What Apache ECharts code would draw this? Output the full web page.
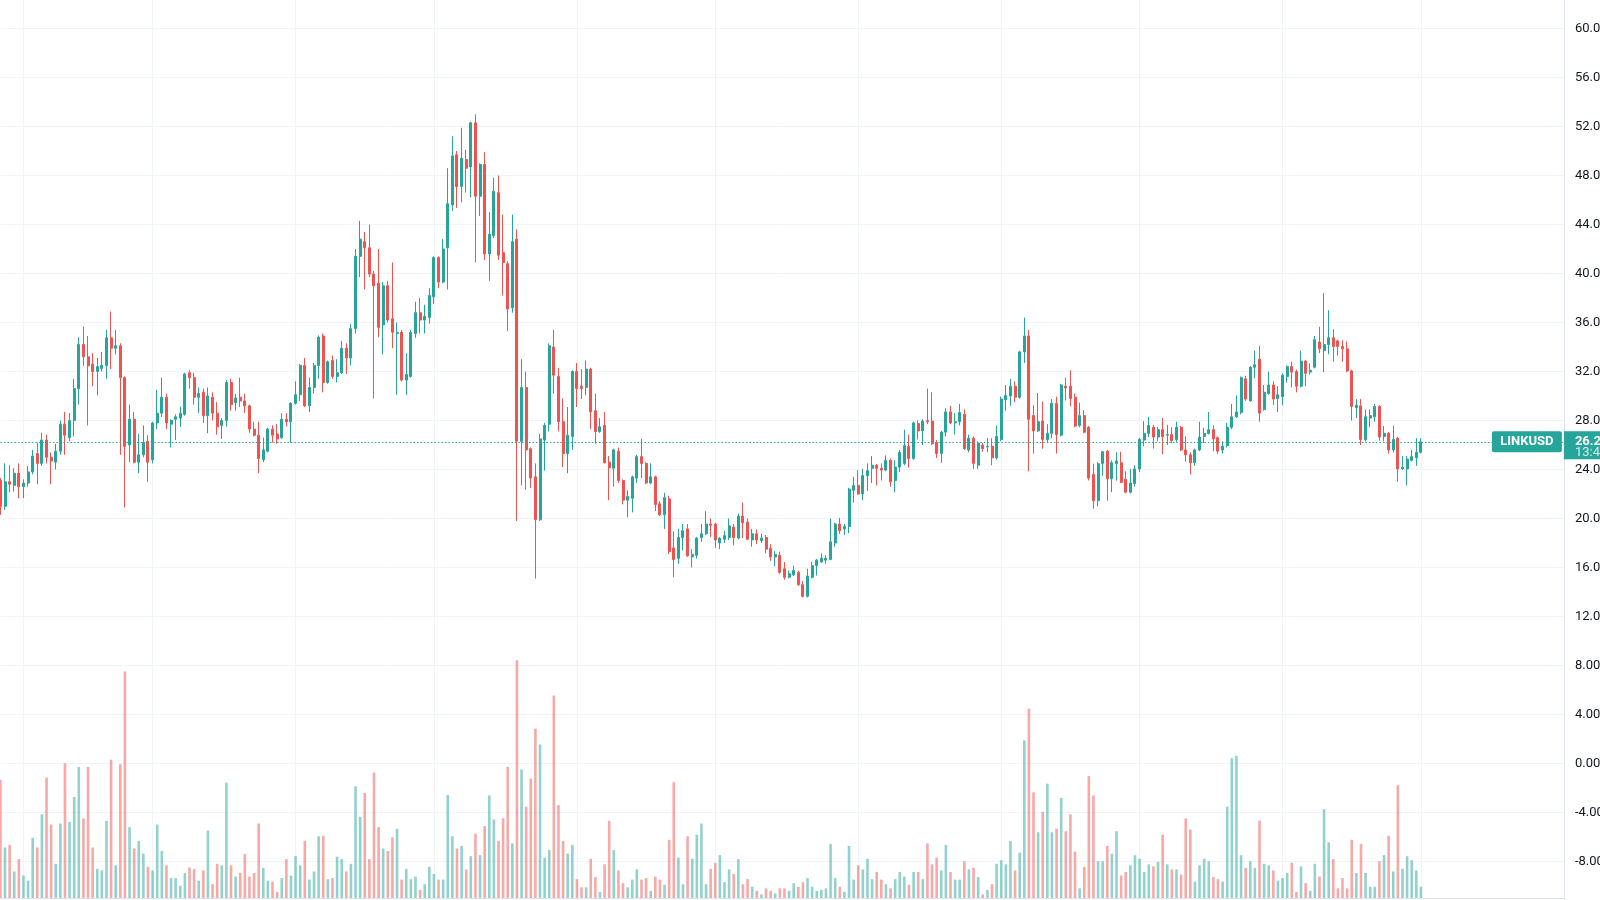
<!DOCTYPE html>
<html lang="en">
<head>
<meta charset="UTF-8">
<title>LINKUSD</title>
<script src="https://cdn.jsdelivr.net/npm/echarts@6/dist/echarts.min.js"></script>
<style>
    html, body { margin: 0; padding: 0; background: #ffffff; }
    #main { width: 1600px; height: 900px; }
</style>
</head>
<body>
<div id="main"></div>
<script>
// daily candles, first bar = 2021-01-27
var startDate = '2021-01-27';
var padBars = 31; // empty space on the right of the last bar

var opens = [
    23.1, 21.0, 23.0, 22.7, 23.7, 22.6, 22.9, 23.8, 25.3, 24.5,
    26.4, 25.0, 24.6, 25.5, 27.7, 26.6, 28.0, 30.6, 34.2, 33.2,
    32.6, 32.0, 32.25, 32.5, 34.75, 33.9, 34.1, 31.5, 26.0, 28.1,
    24.6, 25.2, 26.3, 24.8, 27.8, 28.6, 29.9, 27.7, 28.1, 28.2,
    28.5, 31.9, 31.5, 29.9, 30.3, 28.4, 29.9, 28.6, 27.6, 28.0,
    31.1, 29.46, 29.9, 29.6, 29.2, 27.3, 26.8, 24.8, 25.5, 27.3,
    26.9, 26.6, 28.1, 27.9, 29.4, 30.1, 32.5, 29.2, 30.7, 32.5,
    34.9, 31.1, 32.9, 31.6, 31.9, 33.9, 33.1, 35.5, 41.4, 42.6,
    42.1, 39.95, 39.2, 35.8, 39.0, 36.3, 35.1, 35.2, 31.3, 31.6,
    35.1, 36.8, 36.2, 36.4, 38.1, 41.3, 39.3, 42.1, 45.6, 49.7,
    47.1, 49.3, 48.7, 52.3, 46.3, 48.9, 41.6, 43.1, 46.6, 41.7,
    40.8, 37.2, 42.8, 26.3, 30.7, 25.7, 23.4, 19.9, 26.4, 27.7,
    34.0, 31.6, 27.9, 25.3, 26.7, 32.0, 30.8, 30.7, 32.2, 28.8,
    27.1, 27.6, 24.6, 24.1, 25.5, 23.1, 21.5, 21.65, 23.3, 25.05,
    24.5, 22.9, 23.4, 21.2, 20.3, 21.6, 17.6, 16.75, 18.45, 19.15,
    16.87, 17.0, 18.45, 18.75, 19.55, 19.55, 18.0, 18.3, 18.45, 19.3,
    18.4, 20.2, 19.7, 18.25, 18.75, 18.2, 18.45, 17.55, 16.85, 17.0,
    15.9, 15.2, 15.4, 15.6, 14.6, 13.65, 15.2, 16.15, 16.45, 16.6,
    16.66, 18.0, 19.55, 19.15, 19.35, 22.3, 22.7, 22.0, 23.5, 24.1,
    24.35, 24.1, 23.95, 24.75, 23.1, 24.2, 24.5, 25.9, 24.9, 27.75,
    27.15, 28.0, 27.95, 26.2, 25.3, 27.05, 28.7, 27.8, 27.9, 28.5,
    25.6, 26.55, 24.35, 26.0, 25.85, 25.9, 24.95, 26.45, 29.7, 30.0,
    30.8, 29.9, 33.6, 34.9, 28.4, 27.15, 27.95, 26.45, 26.95, 29.4,
    26.8, 30.8, 30.8, 29.9, 27.6, 28.4, 27.45, 23.6, 21.45, 24.5,
    25.5, 23.25, 24.5, 24.55, 23.2, 22.15, 22.85, 24.05, 26.4, 26.95,
    27.45, 26.65, 27.25, 26.8, 26.85, 26.45, 27.45, 25.6, 25.2, 24.55,
    25.6, 26.7, 26.95, 27.25, 26.6, 25.6, 25.95, 27.45, 28.3, 28.65,
    31.4, 29.6, 32.35, 33.0, 28.9, 30.2, 30.9, 29.8, 29.95, 31.6,
    32.4, 32.0, 30.8, 32.85, 31.95, 32.35, 34.4, 33.7, 34.2, 34.75,
    34.5, 34.05, 33.85, 32.05, 29.05, 29.2, 26.45, 28.2, 28.3, 29.15,
    26.7, 26.95, 25.6, 26.55, 24.05, 24.05, 24.75, 24.95, 25.4
];
var highs = [
    23.3, 24.5, 24.35, 24.1, 24.5, 23.2, 24.3, 25.6, 26.2, 27.0,
    26.85, 25.4, 26.1, 28.0, 28.7, 28.6, 31.4, 34.8, 35.66, 34.9,
    33.5, 33.1, 33.6, 35.4, 36.9, 35.4, 34.3, 31.6, 29.3, 28.7,
    26.9, 27.6, 26.8, 27.9, 30.5, 31.5, 30.2, 28.1, 28.5, 29.13,
    31.9, 32.1, 31.9, 30.7, 30.6, 30.7, 30.3, 29.5, 28.2, 31.3,
    31.4, 30.17, 31.5, 30.2, 29.3, 27.9, 27.9, 26.6, 27.4, 27.6,
    27.7, 28.6, 28.6, 29.5, 31.2, 32.6, 33.1, 31.5, 32.7, 34.95,
    35.1, 32.9, 33.3, 33.0, 34.5, 34.3, 35.9, 42.0, 44.3, 43.4,
    44.0, 40.2, 42.0, 39.3, 39.4, 40.9, 36.0, 35.4, 33.5, 35.4,
    37.7, 38.0, 37.45, 38.8, 41.4, 41.4, 42.8, 48.6, 51.2, 50.0,
    51.9, 50.1, 52.4, 53.0, 49.0, 49.9, 45.0, 47.8, 48.0, 44.8,
    41.0, 44.8, 43.6, 33.0, 32.0, 25.8, 24.5, 26.9, 27.8, 34.3,
    35.4, 32.3, 29.8, 29.1, 32.1, 32.7, 32.2, 32.9, 32.3, 30.2,
    28.2, 28.7, 25.1, 25.7, 25.8, 23.2, 22.3, 23.5, 25.2, 26.5,
    24.6, 24.5, 23.5, 21.4, 22.1, 21.85, 18.95, 19.15, 19.55, 19.55,
    17.5, 18.5, 19.55, 20.6, 20.0, 19.65, 18.5, 19.0, 20.0, 19.55,
    20.4, 21.3, 20.0, 19.15, 19.1, 18.75, 18.65, 17.9, 17.35, 17.3,
    16.45, 15.75, 16.15, 15.75, 14.9, 15.9, 16.45, 16.7, 17.15, 17.0,
    20.0, 19.65, 20.05, 19.55, 22.5, 23.4, 23.95, 24.05, 24.5, 25.1,
    24.45, 24.5, 25.15, 24.9, 24.75, 25.6, 27.25, 26.85, 27.9, 28.0,
    28.1, 30.6, 30.3, 26.4, 27.15, 29.0, 29.2, 28.6, 29.35, 28.9,
    26.85, 26.7, 26.3, 26.15, 26.55, 26.55, 27.6, 29.95, 30.9, 31.4,
    31.2, 33.7, 36.4, 35.4, 29.25, 30.25, 29.55, 27.7, 29.75, 29.95,
    31.0, 31.5, 32.1, 30.2, 29.45, 28.85, 27.55, 24.47, 24.6, 25.5,
    25.6, 24.75, 25.4, 25.45, 23.85, 24.05, 24.35, 26.6, 27.95, 28.3,
    27.65, 27.45, 28.2, 27.65, 27.45, 27.9, 27.55, 26.7, 25.4, 25.7,
    27.9, 27.4, 28.7, 27.6, 26.7, 26.3, 27.8, 29.35, 30.05, 31.6,
    31.65, 32.45, 33.7, 34.1, 30.9, 32.0, 31.2, 30.8, 31.85, 32.5,
    32.8, 32.15, 33.7, 32.95, 32.65, 34.9, 35.65, 38.4, 37.0, 35.45,
    34.6, 34.55, 34.45, 32.15, 29.75, 29.75, 28.9, 28.9, 29.35, 29.25,
    27.55, 27.05, 27.6, 26.65, 25.1, 25.1, 25.6, 26.55, 26.55
];
var lows = [
    20.3, 20.7, 22.15, 22.2, 21.65, 21.65, 22.6, 23.6, 22.8, 24.3,
    24.5, 22.8, 24.0, 25.2, 25.2, 26.3, 26.7, 29.3, 32.46, 27.6,
    30.8, 30.05, 32.0, 31.4, 32.2, 33.4, 25.2, 20.9, 24.6, 24.5,
    23.7, 25.0, 23.0, 24.5, 27.3, 28.3, 27.3, 25.8, 26.4, 27.47,
    28.4, 30.6, 29.3, 28.6, 27.8, 26.97, 28.0, 26.85, 26.5, 27.5,
    28.8, 28.8, 29.1, 28.6, 27.0, 26.7, 23.7, 24.6, 25.4, 26.2,
    26.1, 26.5, 27.5, 26.2, 29.3, 29.6, 29.1, 28.7, 30.2, 31.4,
    30.3, 31.0, 31.4, 31.1, 31.8, 31.8, 32.5, 35.1, 39.7, 38.7,
    39.7, 29.8, 34.8, 33.4, 36.0, 33.9, 30.1, 31.2, 30.1, 31.5,
    34.75, 35.1, 35.1, 35.9, 37.5, 38.8, 39.2, 38.7, 45.1, 45.35,
    45.8, 46.6, 46.2, 40.9, 44.7, 41.1, 39.4, 42.9, 41.1, 38.2,
    35.3, 36.8, 19.8, 22.7, 22.35, 22.5, 15.1, 19.8, 23.9, 27.1,
    30.2, 27.1, 24.2, 23.7, 25.6, 29.1, 29.75, 30.05, 27.3, 26.1,
    27.0, 24.5, 21.5, 22.6, 22.9, 21.15, 20.1, 20.5, 22.9, 23.3,
    22.8, 22.8, 20.6, 20.2, 19.15, 17.1, 15.2, 16.3, 17.4, 16.87,
    16.0, 16.75, 18.1, 18.65, 18.5, 17.6, 17.5, 18.0, 18.25, 17.8,
    18.3, 18.4, 18.25, 17.7, 17.9, 18.0, 17.15, 16.55, 16.1, 15.5,
    15.0, 15.1, 15.3, 14.5, 13.55, 13.55, 15.1, 15.35, 16.4, 16.3,
    16.6, 17.7, 18.75, 18.65, 18.8, 21.3, 21.95, 21.5, 22.25, 22.9,
    22.7, 23.1, 23.85, 22.6, 22.15, 23.8, 24.35, 24.15, 24.8, 26.45,
    26.0, 27.7, 26.0, 24.95, 24.55, 26.7, 27.7, 26.85, 27.6, 25.6,
    25.4, 24.05, 24.05, 25.45, 25.4, 24.35, 24.8, 26.3, 28.8, 29.2,
    29.5, 29.75, 32.7, 23.85, 25.3, 27.05, 25.7, 26.15, 26.55, 25.3,
    26.7, 29.65, 29.15, 27.45, 27.45, 26.95, 23.1, 20.8, 21.0, 23.5,
    21.45, 22.15, 23.1, 22.9, 22.05, 22.05, 22.6, 23.8, 25.9, 26.65,
    25.7, 26.3, 25.25, 26.0, 26.15, 26.25, 25.5, 24.65, 23.6, 24.3,
    25.5, 26.15, 26.85, 25.5, 25.3, 25.3, 25.8, 27.3, 28.2, 28.5,
    29.6, 29.55, 31.45, 27.9, 28.8, 30.1, 29.25, 28.7, 29.25, 31.1,
    30.7, 30.3, 30.7, 30.8, 31.75, 32.25, 33.5, 31.95, 33.4, 32.8,
    33.3, 32.8, 31.95, 28.0, 28.2, 26.0, 26.3, 27.45, 27.9, 26.35,
    26.3, 25.3, 25.4, 23.0, 23.95, 22.7, 24.65, 24.3, 25.3
];
var closes = [
    21.0, 23.0, 22.8, 23.7, 22.6, 22.9, 23.8, 25.1, 24.5, 26.4,
    25.0, 24.7, 25.5, 27.7, 26.8, 28.0, 30.6, 34.2, 33.2, 32.46,
    32.0, 32.4, 32.5, 34.75, 33.9, 34.1, 31.5, 25.9, 28.1, 24.6,
    25.2, 26.2, 24.6, 27.8, 28.6, 29.9, 27.8, 28.0, 28.3, 28.6,
    31.8, 31.5, 29.9, 30.2, 28.4, 30.0, 28.6, 27.5, 28.0, 31.1,
    29.3, 29.84, 29.6, 29.2, 27.3, 26.8, 24.9, 25.6, 27.3, 26.8,
    26.5, 28.1, 27.9, 29.4, 30.1, 32.5, 29.2, 30.7, 32.5, 34.8,
    31.1, 32.8, 31.6, 31.9, 33.9, 33.1, 35.5, 41.4, 42.8, 42.1,
    39.95, 39.0, 35.6, 39.0, 36.2, 35.2, 35.2, 31.3, 31.75, 35.2,
    36.8, 36.2, 36.5, 38.2, 41.3, 39.3, 42.0, 45.7, 49.6, 47.1,
    49.4, 48.6, 52.3, 46.3, 48.9, 41.6, 43.2, 46.7, 41.5, 40.9,
    37.1, 42.6, 26.3, 30.7, 25.6, 23.3, 19.9, 26.5, 27.6, 34.1,
    31.7, 27.9, 25.3, 26.8, 32.0, 30.6, 30.6, 32.2, 28.7, 27.1,
    27.5, 24.55, 24.15, 25.6, 23.1, 21.5, 21.8, 23.4, 25.05, 24.5,
    22.9, 23.4, 21.15, 20.3, 21.7, 17.3, 16.65, 18.45, 19.0, 16.95,
    17.07, 18.4, 18.75, 19.55, 19.45, 18.25, 18.4, 18.6, 19.4, 18.45,
    20.2, 19.65, 18.3, 18.75, 18.25, 18.4, 17.5, 16.85, 17.07, 15.6,
    15.2, 15.5, 15.75, 14.6, 13.65, 15.3, 16.15, 16.6, 16.75, 16.75,
    18.1, 19.55, 19.0, 19.35, 22.4, 22.7, 22.0, 23.5, 23.9, 24.35,
    24.1, 23.95, 24.75, 23.0, 24.2, 25.4, 25.95, 24.9, 27.8, 27.15,
    27.95, 27.9, 26.1, 25.3, 27.05, 28.7, 27.8, 27.9, 28.65, 25.7,
    26.55, 24.5, 26.15, 25.7, 25.9, 24.95, 26.7, 29.75, 30.05, 30.8,
    29.9, 33.6, 34.9, 28.1, 27.15, 27.9, 26.45, 26.95, 29.4, 26.85,
    30.9, 30.65, 29.8, 27.55, 28.4, 27.05, 23.3, 21.45, 24.47, 25.45,
    23.25, 24.55, 24.7, 22.95, 22.15, 22.9, 24.05, 26.45, 26.95, 27.6,
    26.65, 27.25, 26.7, 26.85, 26.35, 27.45, 25.6, 25.2, 24.55, 25.6,
    26.65, 26.95, 27.25, 26.5, 25.5, 25.9, 27.45, 28.3, 28.7, 31.5,
    29.75, 32.35, 32.55, 28.6, 30.3, 30.9, 29.75, 30.1, 31.7, 32.4,
    31.95, 30.8, 32.85, 31.85, 32.1, 34.6, 33.85, 34.2, 34.75, 34.05,
    34.05, 33.85, 32.05, 29.15, 29.25, 26.45, 28.3, 28.4, 29.15, 26.65,
    26.95, 25.6, 26.45, 24.05, 24.2, 24.85, 25.05, 25.4, 26.26
];
// volume, relative units (axis 0..100)
var volumes = [
    46.4, 19.8, 20.8, 10.4, 15.2, 8.8, 6.8, 23.6, 19.8, 32.8,
    47.2, 28.8, 13.4, 29.2, 52.8, 29.8, 39.6, 51.4, 31.2, 51.4,
    19.8, 11.4, 10.8, 30.2, 54.2, 12.8, 52.4, 88.8, 27.8, 19.4,
    22.4, 17.4, 12.2, 10.8, 28.8, 18.4, 12.8, 7.8, 7.8, 4.8,
    9.8, 12, 11.4, 6.8, 10.8, 26.4, 5.4, 13.4, 12.8, 45.2,
    12.8, 8.4, 9.8, 17.2, 8.4, 9.8, 29.2, 11.8, 6.8, 6.4,
    2.4, 7.8, 15.2, 8.8, 16.4, 12.8, 22.4, 7.2, 10.4, 24.2,
    24.4, 7.4, 7.8, 16.2, 15.2, 10.4, 13.4, 43.8, 31.8, 41.2,
    15.2, 49.2, 27.8, 19.4, 18.4, 23.8, 27.2, 7.2, 11.4, 7.4,
    8.4, 3.2, 5.4, 12.2, 9.4, 7.2, 7.2, 40.4, 24.2, 19.4,
    20.4, 11.2, 16.4, 25.2, 16.8, 28.2, 40.2, 30.8, 22.4, 31.2,
    51.4, 21.4, 93.2, 50.4, 35.8, 46.8, 66.4, 60.2, 15.8, 18.8,
    79.4, 36.4, 22.4, 17.4, 20.8, 7.4, 4.2, 4.2, 15.4, 8.2,
    2.4, 13.2, 30.2, 18.8, 10.8, 5.8, 4.2, 7.2, 11.2, 7.2,
    7.8, 2.8, 8.4, 7.2, 5.2, 22.8, 45.4, 15.8, 5.4, 24.2,
    15.4, 24.8, 29.2, 5.4, 11.4, 13.8, 16.8, 6.2, 11.2, 9.4,
    15.2, 5.4, 7.4, 4.4, 2.8, 1.4, 3.8, 2.8, 1.8, 3.8,
    3.8, 2.8, 5.8, 4.4, 6.2, 7.8, 4.4, 2.8, 3.2, 3.8,
    21.2, 7.8, 4.4, 2.4, 20.4, 7.2, 12.8, 11.2, 15.4, 7.4,
    10.2, 7.2, 5.4, 3.8, 7.4, 10.2, 8.4, 5.2, 10.2, 10.2,
    7.4, 21.4, 13.2, 15.8, 10.8, 20.8, 10.2, 7.2, 7.2, 14.4,
    11.2, 11.8, 8.2, 1.4, 3.2, 5.4, 13.4, 14.8, 13.2, 22.4,
    10.8, 17.8, 61.8, 74.2, 41.4, 25.8, 33.8, 44.8, 25.8, 27.2,
    39.2, 26.2, 32.8, 18.2, 3.8, 12.2, 47.8, 40.2, 14.4, 14.4,
    20.4, 17.4, 26.2, 8.8, 10.2, 12.8, 16.8, 15.4, 10.2, 13.2,
    12.4, 14.2, 24.8, 13.2, 11.2, 11.2, 9.2, 31.2, 26.8, 6.4,
    12.8, 15.4, 14.4, 8.2, 7.4, 6.4, 35.8, 54.8, 55.8, 16.8,
    11.8, 14.4, 11.8, 30.4, 13.4, 12.8, 10.8, 6.8, 7.8, 9.8,
    13.8, 2.4, 12.4, 5.8, 2.8, 13.4, 8.4, 34.8, 21.8, 15.2,
    3.8, 7.8, 3.8, 22.8, 9.8, 21.2, 9.8, 4.4, 4.4, 14.4,
    16.8, 24.4, 10.4, 44.2, 11.4, 16.4, 14.8, 10.8, 4.4
];
var symbolName = 'LINKUSD';
var countdown = '13:47:21';
var priceTicks = { min: -12, max: 64, step: 4 };

var upColor = '#26a69a';
var downColor = '#ef5350';
var upVolColor = 'rgba(38,166,154,0.5)';
var downVolColor = 'rgba(239,83,80,0.5)';
var gridColor = '#f0f3fa';

// categories: one per day, plus empty ones on the right
var dates = [];
var t0 = new Date(startDate + 'T00:00:00Z').getTime();
for (var i = 0; i < opens.length + padBars; i++) {
    dates.push(new Date(t0 + i * 86400000).toISOString().slice(0, 10));
}
var isMonthStart = dates.map(function (d) { return d.slice(8) === '01'; });

var candles = opens.map(function (o, i) {
    return [o, closes[i], lows[i], highs[i]];
});
var volBars = volumes.map(function (v, i) {
    return {
        value: v,
        itemStyle: { color: closes[i] >= opens[i] ? upVolColor : downVolColor }
    };
});
var lastPrice = closes[closes.length - 1];

var chart = echarts.init(document.getElementById('main'));
var option = {
    animation: false,
    backgroundColor: '#ffffff',
    grid: [
        { left: 0.4, right: 36.1, top: -20.5, bottom: -10.5, outerBoundsMode: 'none', containLabel: false },
        { left: 0.4, right: 36.1, bottom: 2, height: 255.1, outerBoundsMode: 'none', containLabel: false }
    ],
    xAxis: [
        {
            type: 'category',
            gridIndex: 0,
            data: dates,
            boundaryGap: false,
            axisLine: { show: false },
            axisTick: { show: false },
            axisLabel: { show: false },
            splitLine: {
                show: true,
                interval: function (index) { return isMonthStart[index]; },
                lineStyle: { color: gridColor, width: 1 }
            }
        },
        {
            type: 'category',
            gridIndex: 1,
            data: dates,
            boundaryGap: false,
            axisLine: { show: true, lineStyle: { color: '#e0e3eb' } },
            axisTick: { show: false },
            axisLabel: { show: false },
            splitLine: { show: false }
        }
    ],
    yAxis: [
        {
            type: 'value',
            gridIndex: 0,
            position: 'right',
            min: priceTicks.min,
            max: priceTicks.max,
            interval: priceTicks.step,
            axisLine: { show: true, lineStyle: { color: '#e0e3eb' } },
            axisTick: { show: false },
            axisLabel: {
                margin: 11,
                color: '#131722',
                fontSize: 13,
                fontFamily: 'Roboto, sans-serif',
                formatter: function (v) { return v.toFixed(2); }
            },
            splitLine: { lineStyle: { color: gridColor, width: 1 } }
        },
        {
            type: 'value',
            gridIndex: 1,
            min: 0,
            max: 100,
            show: false,
            splitLine: { show: false }
        }
    ],
    series: [
        {
            name: 'volume',
            type: 'bar',
            xAxisIndex: 1,
            yAxisIndex: 1,
            barWidth: 2.6,
            data: volBars,
            z: 1
        },
        {
            name: symbolName,
            type: 'candlestick',
            xAxisIndex: 0,
            yAxisIndex: 0,
            barWidth: 2.5,
            data: candles,
            itemStyle: {
                color: upColor,
                color0: downColor,
                borderColor: upColor,
                borderColor0: downColor,
                borderWidth: 1
            },
            markLine: {
                silent: true,
                symbol: ['none', 'none'],
                label: { show: false },
                lineStyle: { color: upColor, type: [1.5, 2], width: 1.2, opacity: 1 },
                data: [{ yAxis: lastPrice }]
            },
            z: 3
        }
    ]
};
chart.setOption(option);

// symbol tag and last price tag on the price scale
var py = chart.convertToPixel({ yAxisIndex: 0 }, lastPrice);
var axisX = 1600 - 36.1;
chart.setOption({
    graphic: [
        {
            type: 'rect',
            z: 100,
            shape: { x: axisX - 72, y: py - 10.5, width: 70, height: 21, r: 2 },
            style: { fill: upColor }
        },
        {
            type: 'text',
            z: 101,
            x: axisX - 37, y: py,
            style: {
                text: symbolName, fill: '#ffffff', fontSize: 13, fontWeight: 'bold',
                fontFamily: 'Roboto, sans-serif', align: 'center', verticalAlign: 'middle'
            }
        },
        {
            type: 'rect',
            z: 100,
            shape: { x: axisX, y: py - 10.5, width: 60, height: 28 },
            style: { fill: upColor }
        },
        {
            type: 'text',
            z: 101,
            x: axisX + 11, y: py,
            style: {
                text: lastPrice.toFixed(2), fill: '#ffffff', fontSize: 13, fontWeight: 'bold',
                fontFamily: 'Roboto, sans-serif', align: 'left', verticalAlign: 'middle'
            }
        },
        {
            type: 'text',
            z: 101,
            x: axisX + 11, y: py + 11,
            style: {
                text: countdown, fill: 'rgba(255,255,255,0.8)', fontSize: 13,
                fontFamily: 'Roboto, sans-serif', align: 'left', verticalAlign: 'middle'
            }
        }
    ]
});
</script>
</body>
</html>
